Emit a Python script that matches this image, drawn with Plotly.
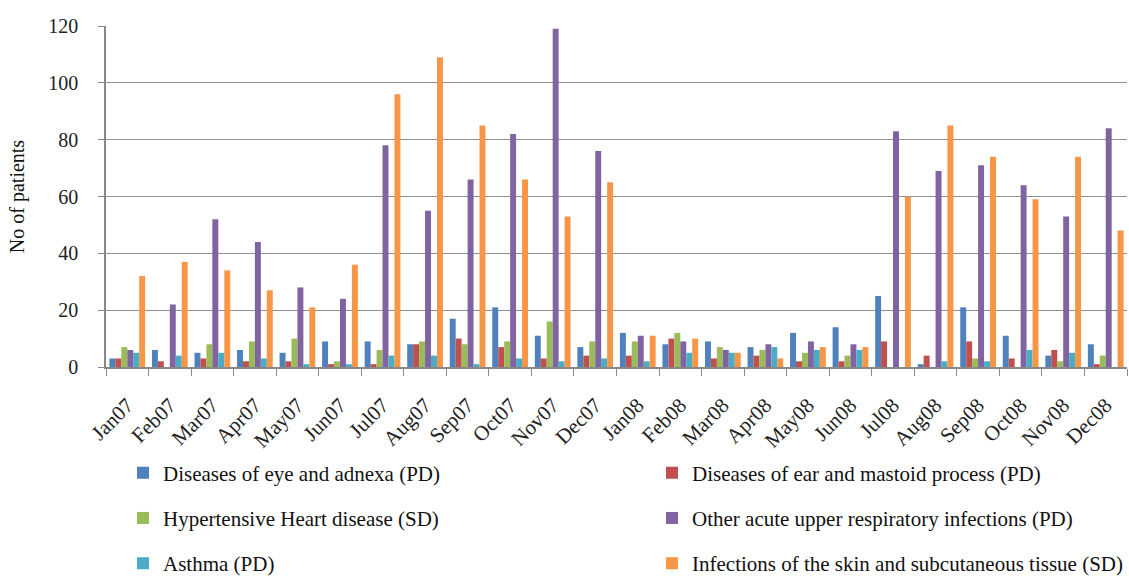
import plotly.graph_objects as go

months = ["Jan07", "Feb07", "Mar07", "Apr07", "May07", "Jun07", "Jul07", "Aug07",
          "Sep07", "Oct07", "Nov07", "Dec07", "Jan08", "Feb08", "Mar08", "Apr08",
          "May08", "Jun08", "Jul08", "Aug08", "Sep08", "Oct08", "Nov08", "Dec08"]

eye_adnexa = [3, 6, 5, 6, 5, 9, 9, 8, 17, 21, 11, 7, 12, 8, 9, 7, 12, 14, 25, 1, 21, 11, 4, 8]
ear_mastoid = [3, 2, 3, 2, 2, 1, 1, 8, 10, 7, 3, 4, 4, 10, 3, 4, 2, 2, 9, 4, 9, 3, 6, 1]
hypertensive = [7, 0, 8, 9, 10, 2, 6, 9, 8, 9, 16, 9, 9, 12, 7, 6, 5, 4, 0, 0, 3, 0, 2, 4]
upper_resp = [6, 22, 52, 44, 28, 24, 78, 55, 66, 82, 119, 76, 11, 9, 6, 8, 9, 8, 83, 69, 71, 64, 53, 84]
asthma = [5, 4, 5, 3, 1, 1, 4, 4, 1, 3, 2, 3, 2, 5, 5, 7, 6, 6, 0, 2, 2, 6, 5, 0]
skin = [32, 37, 34, 27, 21, 36, 96, 109, 85, 66, 53, 65, 11, 10, 5, 3, 7, 7, 60, 85, 74, 59, 74, 48]

# name, values, colour, legend column
series = [
    ("Diseases of eye and adnexa (PD)", eye_adnexa, "#4F81BD", "legend"),
    ("Diseases of ear and mastoid process (PD)", ear_mastoid, "#C0504D", "legend2"),
    ("Hypertensive Heart disease (SD)", hypertensive, "#9BBB59", "legend"),
    ("Other acute upper respiratory infections (PD)", upper_resp, "#8064A2", "legend2"),
    ("Asthma (PD)", asthma, "#4BACC6", "legend"),
    ("Infections of the skin and subcutaneous tissue (SD)", skin, "#F79646", "legend2"),
]

W, H = 1129, 578
L, R, T, B = 106, 2, 26, 211
PW = W - L - R
FONT = "Liberation Serif, Times New Roman, serif"

fig = go.Figure()
for name, vals, color, leg in series:
    fig.add_trace(go.Bar(
        x=months, y=vals, name=name, legend=leg, legendgroup=name,
        marker=dict(color=color, line=dict(width=0)),
    ))

def column_legend(left_px):
    # two vertical legend columns below the plot, rows about 45 px apart
    return dict(
        orientation="v", xref="paper", yref="container",
        x=(left_px - L) / PW, y=1 - 518 / H,
        xanchor="left", yanchor="middle",
        traceorder="grouped", tracegroupgap=15,
        font=dict(family=FONT, size=21, color="#111"),
        bgcolor="rgba(0,0,0,0)", itemclick=False, itemdoubleclick=False,
    )

fig.update_layout(
    width=W, height=H,
    margin=dict(l=L, r=R, t=T, b=B),
    paper_bgcolor="white", plot_bgcolor="white",
    barmode="group", bargap=0.16, bargroupgap=0,
    font=dict(family=FONT, size=17, color="#222"),
    legend=column_legend(123),
    legend2=column_legend(654),
    xaxis=dict(
        type="category", tickangle=-45, tickson="boundaries",
        ticks="outside", ticklen=7, tickcolor="#888",
        showline=True, linecolor="#888", linewidth=1.5,
        showgrid=False, automargin=False, ticklabelstandoff=16,
        tickfont=dict(family=FONT, size=21, color="#222"),
    ),
    yaxis=dict(
        range=[0, 120], dtick=20, tick0=0,
        ticks="outside", ticklen=6, tickcolor="#888",
        showline=True, linecolor="#888", linewidth=1.5,
        showgrid=True, gridcolor="#8f8f8f", gridwidth=1.2,
        zeroline=False, automargin=False, ticklabelstandoff=16,
        tickfont=dict(family=FONT, size=20, color="#222"),
        title=dict(text="No of patients", font=dict(family=FONT, size=20, color="#111"), standoff=18),
    ),
)

fig.write_html("out.html")
